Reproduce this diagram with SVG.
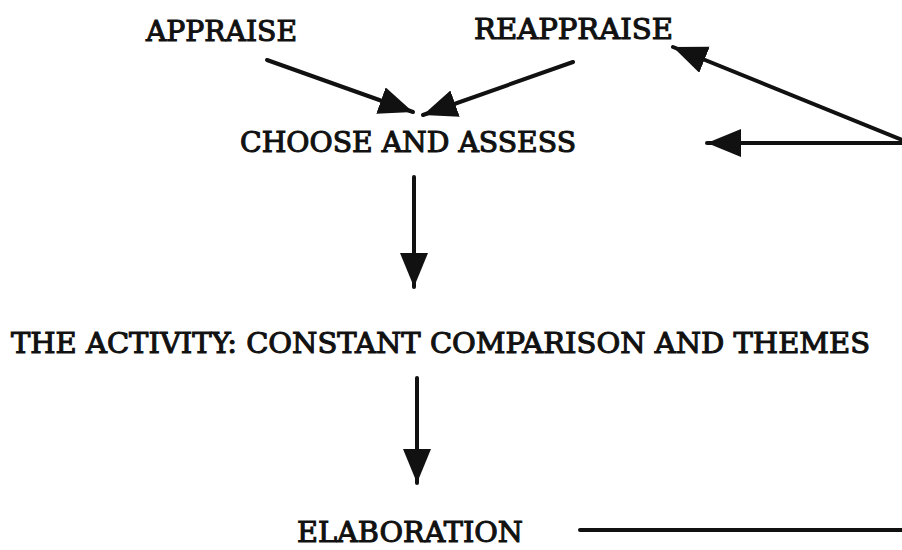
<svg xmlns="http://www.w3.org/2000/svg" width="902" height="550" viewBox="0 0 902 550">
  <style>
    .lbl { font-family: "DejaVu Serif", "Liberation Serif", serif; font-weight: normal; font-size: 28px; fill: #111; stroke: #111; stroke-width: 1.1; }
    .conn { stroke: #111; stroke-width: 4; fill: none; stroke-linecap: round; }
  </style>
  <defs>
    <marker id="ah" markerUnits="userSpaceOnUse" markerWidth="36" markerHeight="30" refX="34" refY="14" orient="auto">
      <path d="M0,0 L34,14 L0,28 Z" fill="#111"/>
    </marker>
  </defs>
  <rect width="902" height="550" fill="#fff"/>
  <g id="appraise"><text class="lbl" x="146" y="41" textLength="151" lengthAdjust="spacingAndGlyphs">APPRAISE</text></g>
  <g id="reappraise"><text class="lbl" x="474" y="39" textLength="199" lengthAdjust="spacingAndGlyphs">REAPPRAISE</text></g>
  <g id="choose"><text class="lbl" x="240" y="152" textLength="336" lengthAdjust="spacingAndGlyphs">CHOOSE AND ASSESS</text></g>
  <g id="activity"><text class="lbl" x="11" y="353" textLength="859" lengthAdjust="spacingAndGlyphs">THE ACTIVITY: CONSTANT COMPARISON AND THEMES</text></g>
  <g id="elaboration"><text class="lbl" x="297" y="542" textLength="226" lengthAdjust="spacingAndGlyphs">ELABORATION</text></g>
  <g id="connectors">
    <line class="conn" x1="267" y1="60" x2="413" y2="112" marker-end="url(#ah)"/>
    <line class="conn" x1="573" y1="62" x2="423" y2="115" marker-end="url(#ah)"/>
    <line class="conn" x1="902" y1="140" x2="673" y2="47" marker-end="url(#ah)"/>
    <line class="conn" x1="902" y1="143" x2="707" y2="143" marker-end="url(#ah)"/>
    <line class="conn" x1="414" y1="177" x2="414" y2="287" marker-end="url(#ah)"/>
    <line class="conn" x1="417" y1="378" x2="417" y2="483" marker-end="url(#ah)"/>
    <line class="conn" x1="580" y1="530" x2="902" y2="530"/>
  </g>
</svg>
